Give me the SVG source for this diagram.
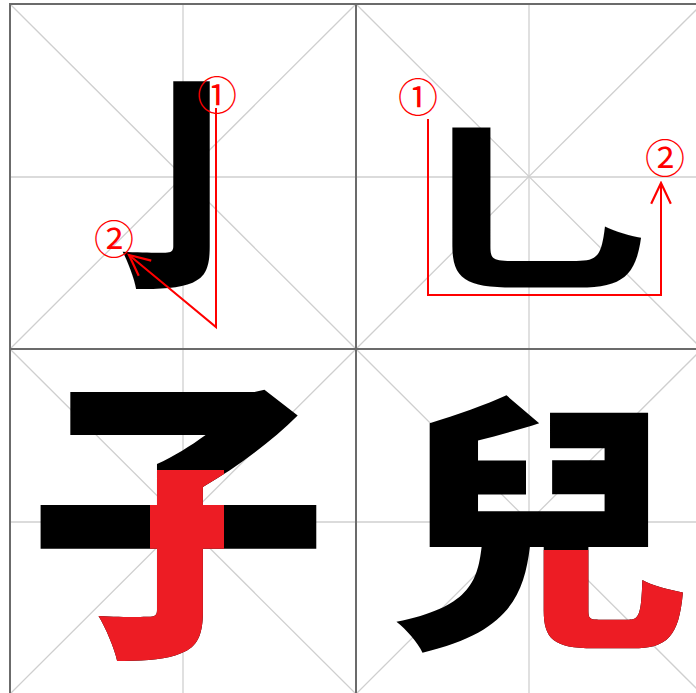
<svg xmlns="http://www.w3.org/2000/svg" width="696" height="693" viewBox="0 0 696 693">
<style>
.bg{fill:#fff}
.border{fill:none;stroke:#6b6b6b;stroke-width:2}
.guide{stroke:#cfcfcf;stroke-width:1.3;fill:none}
.glyph{font-family:"Noto Sans CJK TC","Noto Sans CJK SC",sans-serif;font-weight:900;text-anchor:middle}
.red{fill:#ed1c24}
.num{font-family:"Noto Sans CJK SC","DejaVu Sans",sans-serif;font-size:40px;fill:#ff0000;text-anchor:middle}
.arrow{fill:none;stroke:#ff0000;stroke-width:2}
</style>
<defs>
<marker id="ah" markerUnits="userSpaceOnUse" markerWidth="24" markerHeight="24" viewBox="0 0 22 22" refX="20" refY="11" orient="auto">
<path d="M1,2 L20,11 L1,20" fill="none" stroke="#ff0000" stroke-width="2"/>
</marker>
<clipPath id="clipZi"><polygon points="150,470 224,470 224,690 85,690 85,590 150,590"/></clipPath>
<clipPath id="clipEr"><rect x="536" y="550" width="160" height="140"/></clipPath>
</defs>
<rect class="bg" width="696" height="693"/>
<g id="grid">
<line class="guide" x1="10" y1="4" x2="356" y2="349"/><line class="guide" x1="356" y1="4" x2="10" y2="349"/>
<line class="guide" x1="183" y1="4" x2="183" y2="349"/><line class="guide" x1="10" y1="177" x2="356" y2="177"/>
<line class="guide" x1="356" y1="4" x2="702" y2="349"/><line class="guide" x1="702" y1="4" x2="356" y2="349"/>
<line class="guide" x1="529" y1="4" x2="529" y2="349"/><line class="guide" x1="356" y1="177" x2="702" y2="177"/>
<line class="guide" x1="10" y1="349" x2="356" y2="694"/><line class="guide" x1="356" y1="349" x2="10" y2="694"/>
<line class="guide" x1="183" y1="349" x2="183" y2="694"/><line class="guide" x1="10" y1="522" x2="356" y2="522"/>
<line class="guide" x1="356" y1="349" x2="702" y2="694"/><line class="guide" x1="702" y1="349" x2="356" y2="694"/>
<line class="guide" x1="529" y1="349" x2="529" y2="694"/><line class="guide" x1="356" y1="522" x2="702" y2="522"/>
<rect class="border" x="10" y="4" width="346" height="345"/>
<rect class="border" x="356" y="4" width="346" height="345"/>
<rect class="border" x="10" y="349" width="346" height="345"/>
<rect class="border" x="356" y="349" width="346" height="345"/>
</g>
<g id="stroke-vertical-hook">
<text class="glyph" x="189" y="270" font-size="228">亅</text>
</g>
<g id="stroke-vertical-bend-hook">
<text class="glyph" transform="translate(537,280) scale(1.09,0.82)" x="0" y="0" font-size="230">乚</text>
</g>
<g id="char-zi">
<text class="glyph" x="178" y="633" font-size="300">子</text>
<g clip-path="url(#clipZi)"><text class="glyph red" x="178" y="633" font-size="300">子</text></g>
</g>
<g id="char-er">
<text class="glyph" transform="translate(538,627) scale(1,0.9)" x="0" y="0" font-size="300">兒</text>
<g clip-path="url(#clipEr)"><text class="glyph red" transform="translate(538,627) scale(1,0.9)" x="0" y="0" font-size="300">兒</text></g>
</g>
<g id="connectors">
<polyline class="arrow" points="216,108 216,327 129,255" marker-end="url(#ah)"/>
<polyline class="arrow" points="428,119 428,295 661,295 661,183" marker-end="url(#ah)"/>
</g>
<g id="labels">
<text class="num" x="217" y="110">①</text>
<text class="num" x="114" y="254">②</text>
<text class="num" x="418" y="112">①</text>
<text class="num" x="665" y="173">②</text>
</g>
</svg>
